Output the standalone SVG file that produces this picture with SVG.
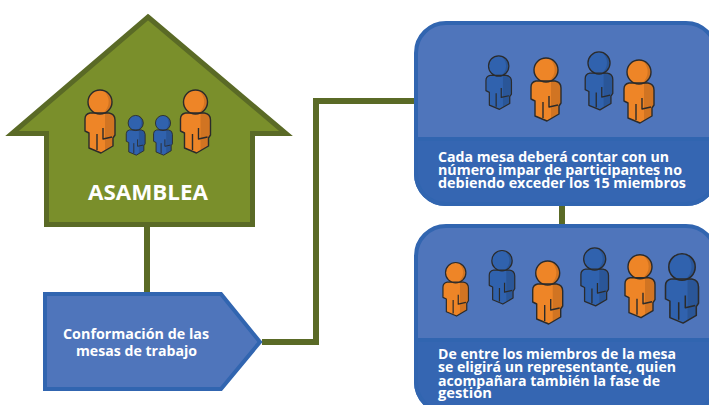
<svg xmlns="http://www.w3.org/2000/svg" width="709" height="405" viewBox="0 0 709 405">
<style>
.conn{fill:none;stroke:#5a6a26;stroke-width:6}
.panel{fill:#4f75bb;stroke:#3165b0;stroke-width:4}
.low{fill:#3566b2}
.t{font-family:"Open Sans","Liberation Sans",sans-serif;font-weight:700;fill:#fff;font-size:14px}
.o{fill:#ee8527}
.b{fill:#3062ae}
.ol{fill:none;stroke:#2b2b2b;stroke-width:1.4;stroke-linejoin:round}
</style>
<defs>
<g id="person">
<circle cx="0" cy="0" r="12"/>
<path d="M-10,11 L9,11 Q15,12 15,18 L15,33 L13,36 L13,44 L1,51 L-11,46 L-11,31 L-15,29 L-15,17 Q-15,12 -10,11Z"/>
<path d="M3,-11.500 A12,12 0 0 1 7,10 L3,11 A14,14 0 0 0 3,-11.500Z M5,11 L9,11 Q15,12 15,18 L15,33 L13,36 L13,44 L5,48.500Z" fill="#000" fill-opacity=".12"/>
<circle class="ol" cx="0" cy="0" r="12"/>
<path class="ol" d="M-10,11 L9,11 Q15,12 15,18 L15,33 L13,36 L13,44 L1,51 L-11,46 L-11,31 L-15,29 L-15,17 Q-15,12 -10,11Z M-3,32 L-3,48 M3,26 L3,37 L12,35"/>
</g>
</defs>
<g id="connectors">
<path class="conn" d="M147,226V293"/>
<path class="conn" d="M262,342H316V101H416"/>
<path class="conn" d="M562,204V226"/>
</g>
<g id="asamblea">
<path d="M148,17L286,133.500H252.500V224.500H46.500V133.500H12Z" fill="#7a8f2b" stroke="#5a6a26" stroke-width="5" stroke-miterlimit="20"/>
<use href="#person" class="o" x="100" y="102"/>
<use href="#person" class="b" transform="translate(135.700,123) scale(.63)"/>
<use href="#person" class="b" transform="translate(163,123) scale(.63)"/>
<use href="#person" class="o" x="195.500" y="102"/>
<text x="88" y="200" font-size="21" font-family="'Open Sans','Liberation Sans',sans-serif" font-weight="700" fill="#fff" textLength="120" lengthAdjust="spacingAndGlyphs">ASAMBLEA</text>
</g>
<g id="conformacion">
<path class="panel" d="M45,294H221L260,342L221,389H45Z"/>
<text class="t" x="63" y="339" textLength="146" lengthAdjust="spacingAndGlyphs">Conformación de las</text>
<text class="t" x="76" y="356" textLength="121" lengthAdjust="spacingAndGlyphs">mesas de trabajo</text>
</g>
<g id="mesa">
<rect class="panel" x="416" y="23" width="300" height="181" rx="30"/>
<path class="low" d="M416,139H716V174A30,30 0 0 1 686,204H446A30,30 0 0 1 416,174Z" stroke="#3165b0" stroke-width="4"/>
<use href="#person" class="b" transform="translate(498.700,66) scale(.85)"/>
<use href="#person" class="o" x="546" y="70"/>
<use href="#person" class="b" transform="translate(599,63) scale(.92)"/>
<use href="#person" class="o" x="639" y="72"/>
<text class="t" x="438" y="162" textLength="231" lengthAdjust="spacingAndGlyphs">Cada mesa deberá contar con un</text>
<text class="t" x="438" y="175" textLength="244" lengthAdjust="spacingAndGlyphs">número impar de participantes no</text>
<text class="t" x="438" y="188" textLength="248" lengthAdjust="spacingAndGlyphs">debiendo exceder los 15 miembros</text>
</g>
<g id="representante">
<rect class="panel" x="416" y="226" width="300" height="186" rx="30"/>
<path class="low" d="M416,340H716V382A30,30 0 0 1 686,412H446A30,30 0 0 1 416,382Z" stroke="#3165b0" stroke-width="4"/>
<use href="#person" class="o" transform="translate(455.700,272.700) scale(.85)"/>
<use href="#person" class="b" transform="translate(502,260.700) scale(.85)"/>
<use href="#person" class="o" x="547.700" y="273"/>
<use href="#person" class="b" transform="translate(594.700,259) scale(.92)"/>
<use href="#person" class="o" x="640" y="266.700"/>
<use href="#person" class="b" transform="translate(682,267) scale(1.1)"/>
<text class="t" x="438" y="359" textLength="238" lengthAdjust="spacingAndGlyphs">De entre los miembros de la mesa</text>
<text class="t" x="438" y="372" textLength="238" lengthAdjust="spacingAndGlyphs">se eligirá un representante, quien</text>
<text class="t" x="438" y="386" textLength="222" lengthAdjust="spacingAndGlyphs">acompañara también la fase de</text>
<text class="t" x="438" y="398" textLength="54" lengthAdjust="spacingAndGlyphs">gestión</text>
</g>
</svg>
